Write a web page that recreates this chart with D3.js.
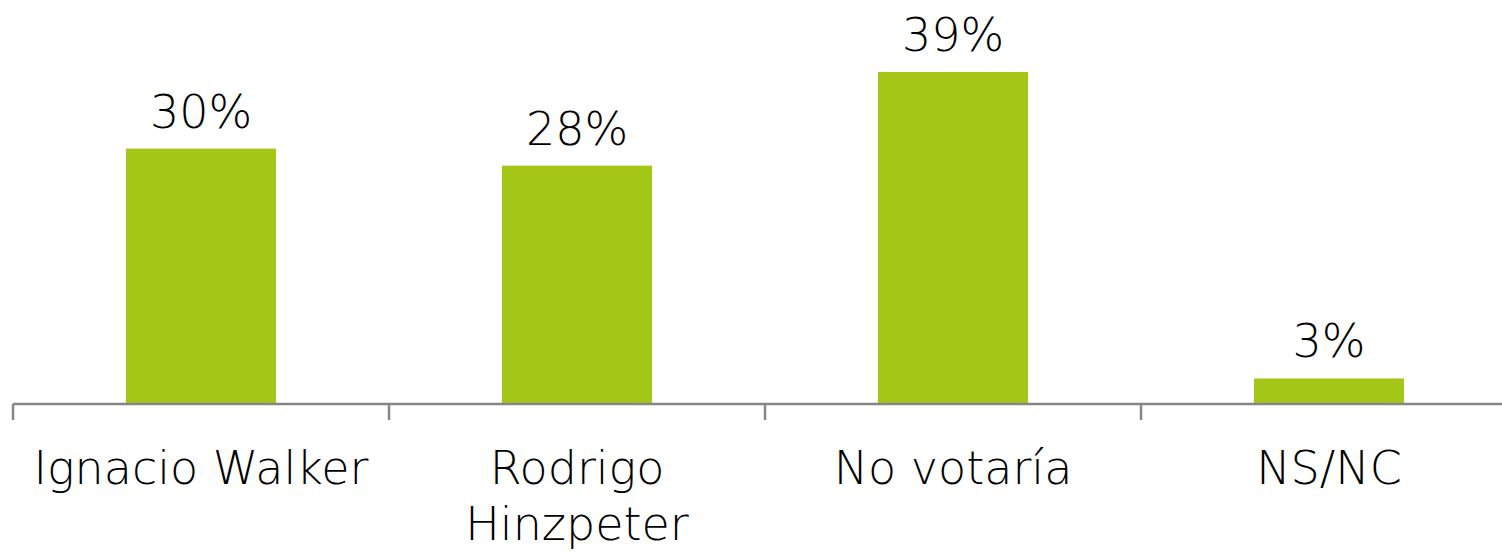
<!DOCTYPE html>
<html>
<head>
<meta charset="utf-8">
<script src="https://cdn.jsdelivr.net/npm/d3@7"></script>
<style>
  body { margin: 0; background: #fff; }
  text { font-family: "DejaVu Sans", sans-serif; font-weight: 200; fill: #000; }
</style>
</head>
<body>
<svg id="chart"></svg>
<script>
// chart data
const categories = ["Ignacio Walker", "Rodrigo Hinzpeter", "No votaría", "NS/NC"]
const labelLines = [["Ignacio Walker"], ["Rodrigo", "Hinzpeter"], ["No votaría"], ["NS/NC"]]
const values = [30, 28, 39, 3]

const width = 1502, height = 552
const margin = { top: 30, right: -15, bottom: 148, left: 13 }

const svg = d3.select("#chart").attr("width", width).attr("height", height)

// band step 376, bar 150
const x = d3.scaleBand()
  .domain(categories)
  .range([margin.left, width - margin.right])
  .paddingInner(1 - 150 / 376)
  .paddingOuter((376 - 150) / 2 / 376)

const y = d3.scaleLinear()
  .domain([0, 39])
  .range([height - margin.bottom, 72])

const base = y(0)

// bars
svg.selectAll("rect.bar")
  .data(values)
  .join("rect")
  .attr("class", "bar")
  .attr("x", (d, i) => x(categories[i]))
  .attr("width", x.bandwidth())
  .attr("y", d => y(d))
  .attr("height", d => base - y(d))
  .attr("fill", "#a4c616")

// value labels
svg.selectAll("text.val")
  .data(values)
  .join("text")
  .attr("class", "val")
  .attr("x", (d, i) => x(categories[i]) + x.bandwidth() / 2)
  .attr("y", d => y(d) - 21)
  .attr("text-anchor", "middle")
  .style("font-size", "46px")
  .text(d => d + "%")

// axis line and ticks
const step = x.step()
svg.append("line")
  .attr("x1", margin.left).attr("x2", width)
  .attr("y1", base).attr("y2", base)
  .attr("stroke", "#868686").attr("stroke-width", 2.5)

svg.selectAll("line.tick")
  .data(d3.range(categories.length + 1))
  .join("line")
  .attr("class", "tick")
  .attr("x1", i => margin.left + i * step).attr("x2", i => margin.left + i * step)
  .attr("y1", base).attr("y2", base + 16)
  .attr("stroke", "#868686").attr("stroke-width", 2.5)

// category labels
const cat = svg.selectAll("text.cat")
  .data(labelLines)
  .join("text")
  .attr("class", "cat")
  .attr("text-anchor", "middle")
  .style("font-size", "46px")
  .attr("x", (d, i) => x(categories[i]) + x.bandwidth() / 2)
  .attr("y", 484)

cat.selectAll("tspan")
  .data(d => d)
  .join("tspan")
  .attr("x", function () { return d3.select(this.parentNode).attr("x") })
  .attr("dy", (d, i) => i === 0 ? 0 : 56)
  .text(d => d)
</script>
</body>
</html>
